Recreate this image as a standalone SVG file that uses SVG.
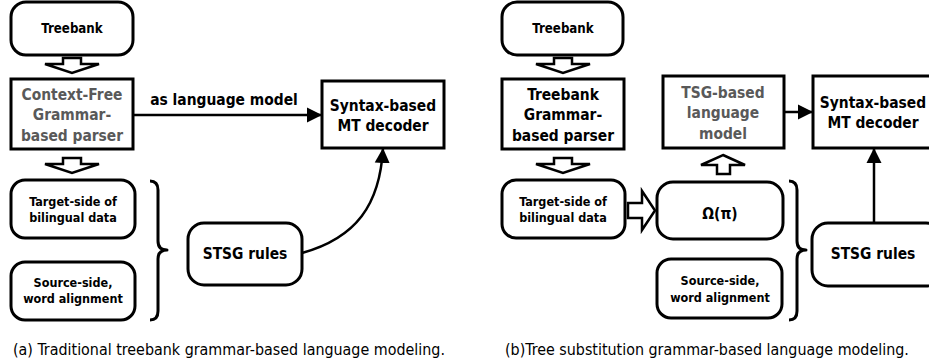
<svg xmlns="http://www.w3.org/2000/svg" width="929" height="364" viewBox="0 0 929 364">
<defs>
<style>
.box{fill:#fff;stroke:#000;stroke-width:3}
.hol{fill:#fff;stroke:#000;stroke-width:2.5;stroke-linejoin:miter}
.con{fill:none;stroke:#000;stroke-width:2.5}
.brace{fill:none;stroke:#000;stroke-width:3;stroke-linejoin:round}
text{font-family:"DejaVu Sans Condensed","DejaVu Sans","Liberation Sans",sans-serif;font-stretch:condensed;font-weight:bold;text-anchor:middle;fill:#000}
.s{font-size:12.5px}
.t{font-size:13.2px}
.m{font-size:15.4px}
.g{fill:#595959}
.cap{font-size:15.9px;font-weight:normal;text-anchor:start}
</style>
<marker id="ah" markerWidth="16" markerHeight="16" refX="15" refY="8" orient="auto" markerUnits="userSpaceOnUse">
<path d="M0,0.5 L15,8 L0,15.5 z" fill="#000"/>
</marker>
</defs>

<g id="treebankA"><rect class="box" x="11" y="2" width="122" height="53" rx="15"/><text class="t" x="72" y="33">Treebank</text></g>
<g id="cfgParser"><rect class="box" x="11" y="79" width="122" height="70"/><text class="m g" x="72" y="99.5">Context-Free</text><text class="m g" x="72" y="119.5">Grammar-</text><text class="m g" x="72" y="140.5">based parser</text></g>
<g id="decoderA"><rect class="box" x="322" y="81" width="122" height="67"/><text class="m" x="383" y="110.5">Syntax-based</text><text class="m" x="383" y="130.5">MT decoder</text></g>
<g id="targetA"><rect class="box" x="11" y="180" width="124" height="58" rx="14"/><text class="s" x="73" y="206">Target-side of</text><text class="s" x="73" y="222">bilingual data</text></g>
<g id="sourceA"><rect class="box" x="11" y="262" width="124" height="58" rx="14"/><text class="s" x="73" y="286.5">Source-side,</text><text class="s" x="73" y="302.5">word alignment</text></g>
<g id="stsgA"><rect class="box" x="188" y="223" width="114" height="62" rx="16"/><text class="m" x="245" y="258.5">STSG rules</text></g>

<g id="treebankB"><rect class="box" x="502" y="2" width="121" height="53" rx="15"/><text class="t" x="563" y="33">Treebank</text></g>
<g id="tbgParser"><rect class="box" x="502" y="79" width="122" height="70"/><text class="m" x="563" y="99.5">Treebank</text><text class="m" x="563" y="119.5">Grammar-</text><text class="m" x="563" y="140.5">based parser</text></g>
<g id="tsgLM"><rect class="box" x="663" y="76" width="121" height="72"/><text class="m g" x="723" y="97.5">TSG-based</text><text class="m g" x="723" y="117.5">language</text><text class="m g" x="723" y="138.5">model</text></g>
<g id="decoderB"><rect class="box" x="813" y="76" width="125" height="72"/><text class="m" x="873" y="107.5">Syntax-based</text><text class="m" x="873" y="127.5">MT decoder</text></g>
<g id="targetB"><rect class="box" x="502" y="180" width="123" height="58" rx="14"/><text class="s" x="563" y="206">Target-side of</text><text class="s" x="563" y="222">bilingual data</text></g>
<g id="omega"><rect class="box" x="657" y="182" width="126" height="57" rx="16"/><text class="m" x="720" y="218.5">Ω(π)</text></g>
<g id="sourceB"><rect class="box" x="657" y="259" width="125" height="59" rx="14"/><text class="s" x="720" y="285">Source-side,</text><text class="s" x="720" y="301.5">word alignment</text></g>
<g id="stsgB"><rect class="box" x="812" y="223" width="130" height="63" rx="16"/><text class="m" x="873" y="258.5">STSG rules</text></g>

<g id="connectors">
<polygon class="hol" points="63,58 81,58 81,64 99,64 72,73 45,64 63,64"/>
<polygon class="hol" points="63,158 81,158 81,164 99,164 72,173 45,164 63,164"/>
<polygon class="hol" points="554,58 572,58 572,64 590,64 563,73 536,64 554,64"/>
<polygon class="hol" points="554,158 572,158 572,164 590,164 563,173 536,164 554,164"/>
<polygon class="hol" points="723,155 745,165 730,165 730,174 717,174 717,165 701,165"/>
<polygon class="hol" points="628,203 642,203 642,191 655,210.5 642,230 642,218 628,218"/>
<line class="con" x1="133" y1="115" x2="322" y2="115" marker-end="url(#ah)"/>
<path class="con" d="M302,253 C356,238 380,205 383,148" marker-end="url(#ah)"/>
<line class="con" x1="784" y1="112" x2="813" y2="112" marker-end="url(#ah)"/>
<line class="con" x1="874" y1="223" x2="874" y2="148" marker-end="url(#ah)"/>
<path class="brace" d="M150,181 Q158,181 158,190 L158,241 Q158,250 167,250 Q158,250 158,259 L158,311 Q158,320 150,320"/>
<path class="brace" d="M789,181 Q797,181 797,190 L797,241 Q797,250 806,250 Q797,250 797,259 L797,311 Q797,320 789,320"/>
</g>
<text class="m" x="224" y="104.5">as language model</text>

<text class="cap" x="13" y="355">(a) Traditional treebank grammar-based language modeling.</text>
<text class="cap" x="505" y="355">(b)Tree substitution grammar-based language modeling.</text>
</svg>
